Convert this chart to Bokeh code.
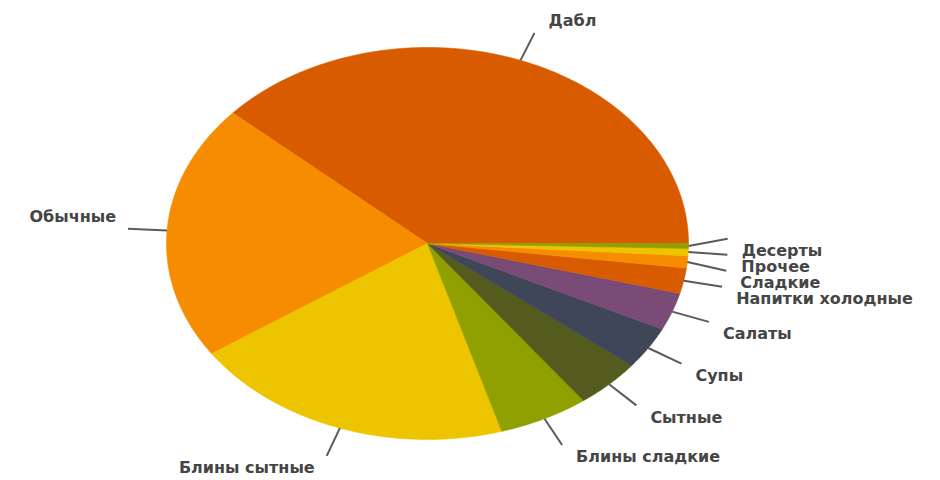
import numpy as np
from bokeh.plotting import figure
from bokeh.models import ColumnDataSource, Range1d
from bokeh.embed import file_html
from bokeh.resources import INLINE
from bokeh.core.properties import value

# ---- data ----
categories = ["Дабл", "Обычные", "Блины сытные", "Блины сладкие", "Сытные", "Супы",
              "Салаты", "Напитки холодные", "Сладкие", "Прочее", "Десерты"]
shares = [38.4, 21.1, 20.1, 5.6, 4.1, 3.5, 3.1, 2.1, 1.0, 0.6, 0.4]
palette = ["#D95B00", "#F68D00", "#ECC400", "#8FA000", "#535C1E", "#3E4657", "#7A4B76"]

# ---- layout (pixels) ----
W, H = 936, 480
CX, CY = 427, 243          # pie centre inside the plot area
RX, RY = 261, 196          # stretched (elliptical) pie radii
LEAD = 1.15                # leader line outer radius factor
GAP = 16                   # min vertical distance between labels

def to_data(px, py):
    return (px - CX) / RX, (CY - py) / RY

vals = np.array(shares, dtype=float)
frac = vals / vals.sum()
ends = np.cumsum(frac) * 2 * np.pi
starts = ends - frac * 2 * np.pi
mids = (starts + ends) / 2

# slices
xs, ys, cols = [], [], []
for i, (a0, a1) in enumerate(zip(starts, ends)):
    n = max(4, int(np.degrees(a1 - a0) * 2))
    t = np.linspace(a0, a1, n)
    xs.append([0.0] + list(np.cos(t)))
    ys.append([0.0] + list(np.sin(t)))
    cols.append(palette[i % len(palette)])
p = figure(width=W, height=H, x_range=Range1d(-CX / RX, (W - CX) / RX),
           y_range=Range1d(-(H - CY) / RY, CY / RY), output_backend="svg",
           toolbar_location=None, min_border=0, x_axis_location=None, y_axis_location=None)
p.grid.visible = False
p.outline_line_color = None
p.background_fill_color = "white"
p.patches(xs="xs", ys="ys", fill_color="c", line_color="c", line_width=0.6,
          source=ColumnDataSource(dict(xs=xs, ys=ys, c=cols)))

# label layout in pixel space
info = []
for i, m in enumerate(mids):
    ex = CX + LEAD * RX * np.cos(m)
    ey = CY - LEAD * RY * np.sin(m)
    right = np.cos(m) >= 0
    below = np.sin(m) < 0
    ty = ey + 12 if below else ey - 12
    info.append(dict(i=i, m=m, ex=ex, ey=ey, right=right, below=below, ty=ty))

for side in (True, False):
    group = sorted([d for d in info if d["right"] == side], key=lambda d: d["ty"])
    for _ in range(200):
        moved = False
        for a, b in zip(group[:-1], group[1:]):
            gap = b["ty"] - a["ty"]
            if gap < GAP - 0.01:
                push = (GAP - gap) / 2
                a["ty"] -= push
                b["ty"] += push
                moved = True
        if not moved:
            break

lx0, ly0, lx1, ly1 = [], [], [], []
tx, ty, tt, ta = [], [], [], []
for d in info:
    m = d["m"]
    sx, sy = np.cos(m), np.sin(m)
    endy = d["ty"] - 12 if d["below"] else d["ty"] + 12
    lx0.append(sx); ly0.append(sy)
    x1, y1 = to_data(d["ex"], endy)
    lx1.append(x1); ly1.append(y1)
    if d["right"]:
        px = d["ex"] + 14
        ta.append("left")
    else:
        px = d["ex"] - 12
        ta.append("right")
    X, Y = to_data(px, d["ty"])
    tx.append(X); ty.append(Y); tt.append(categories[d["i"]])

p.segment(x0=lx0, y0=ly0, x1=lx1, y1=ly1, line_color="#5a5a5a", line_width=2)
p.text(x="x", y="y", text="t", text_align="a", text_baseline="middle",
       text_font=value("DejaVu Sans"), text_font_style="bold", text_font_size="16px",
       text_color="#454545", source=ColumnDataSource(dict(x=tx, y=ty, t=tt, a=ta)))

open("out.html", "w").write(file_html(p, INLINE))
